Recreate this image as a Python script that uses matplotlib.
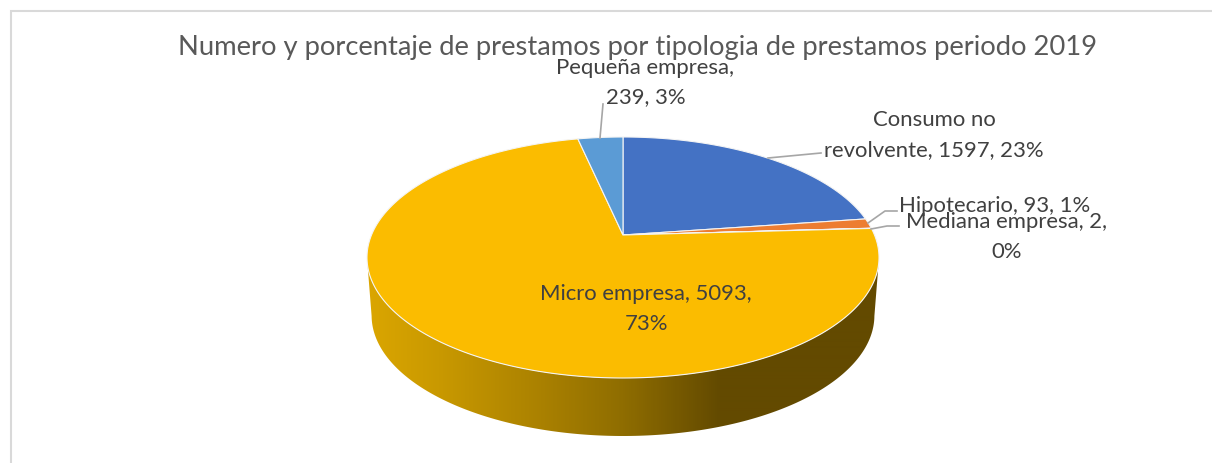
import numpy as np
import matplotlib
matplotlib.use('Agg')
import matplotlib.pyplot as plt
from matplotlib.colors import LinearSegmentedColormap
from matplotlib.patches import Polygon

plt.rcParams['font.family'] = ['Lato', 'DejaVu Sans']

titulo = 'Numero y porcentaje de prestamos por tipologia de prestamos periodo 2019'
categorias = ['Consumo no revolvente', 'Hipotecario', 'Mediana empresa', 'Micro empresa', 'Pequeña empresa']
valores = [1597, 93, 2, 5093, 239]
porcentajes = [23, 1, 0, 73, 3]
colores = ['#4472C4', '#ED7D31', '#A5A5A5', '#FBBC00', '#5B9BD5']

# pie geometry in pixels
cx, cy = 623, 235
a, b, k = 251.5, 116.3, 0.1867
grosor = 58


def rim(ang, esc=1.0):
    # angle clockwise from the top, with perspective on the circle
    x = np.sin(ang)
    y = np.cos(ang)
    d = 1 + k * y
    return cx + esc * a * x / d, cy - b * y / d


fig = plt.figure(figsize=(12.12, 4.63), dpi=100)
ax = fig.add_axes([0, 0, 1, 1])
ax.set_xlim(0, 1212)
ax.set_ylim(463, 0)
ax.axis('off')

# chart frame
ax.plot([10.5, 10.5, 1212], [463, 10.5, 10.5], color='#D9D9D9', lw=1.5, solid_joinstyle='miter')

# side of the pie, gradient clipped to the wall
ang = np.linspace(0, 2 * np.pi, 721)
xt, yt = rim(ang)
i_der = np.argmax(xt)
i_izq = np.argmin(xt)
xs_top, ys_top = xt[i_der:i_izq + 1], yt[i_der:i_izq + 1]
xs_bot, ys_bot = rim(ang[i_der:i_izq + 1], 0.982)
ys_bot = ys_bot + grosor
pared = np.column_stack([np.r_[xs_top, xs_bot[::-1]], np.r_[ys_top, ys_bot[::-1]]])
pared = Polygon(pared, closed=True, transform=ax.transData, fc='none', ec='none')
ax.add_patch(pared)
paleta = LinearSegmentedColormap.from_list('pared', [
    (0.0, '#DBA600'), (0.14, '#C99900'), (0.34, '#AA8100'),
    (0.5, '#8F6D00'), (0.69, '#634A00'), (1.0, '#634A00')])
grad = np.linspace(0, 1, 512).reshape(1, -1)
img = ax.imshow(grad, cmap=paleta, extent=[367, 879, 440, 250], aspect='auto', zorder=1, interpolation='bilinear')
img.set_clip_path(pared)
ax.set_xlim(0, 1212)
ax.set_ylim(463, 0)

# top of the pie
fin = np.cumsum(valores) / sum(valores) * 2 * np.pi
ini = np.r_[0, fin[:-1]]
for v0, v1, col in zip(ini, fin, colores):
    t = np.linspace(v0, v1, max(int((v1 - v0) * 120), 3))
    xp, yp = rim(t)
    pts = np.column_stack([np.r_[cx, xp], np.r_[cy, yp]])
    ax.add_patch(Polygon(pts, closed=True, fc=col, ec='#F4F4F4', lw=0.8, zorder=2))

# leader lines
lineas = [
    ([768, 821], [158, 153]),
    ([868, 885, 897], [223, 211, 211]),
    ([871, 887, 899], [229, 226, 226]),
    ([600, 603], [138, 104]),
]
for lx, ly in lineas:
    ax.plot(lx, ly, color='#A6A6A6', lw=1.2, zorder=3)

fs = 15.9
gris = '#404040'
ax.text(638, 47, titulo, fontsize=19.7, color='#595959', ha='center', va='center', zorder=4)


def etiqueta(x, y, txt):
    ax.text(x, y + 1.5, txt, fontsize=fs, color=gris, ha='center', va='center', zorder=4)


etiqueta(934, 118, 'Consumo no')
etiqueta(934, 149, f'revolvente, {valores[0]}, {porcentajes[0]}%')
etiqueta(995, 204, f'{categorias[1]}, {valores[1]}, {porcentajes[1]}%')
etiqueta(1007, 221, f'{categorias[2]}, {valores[2]},')
etiqueta(1007, 250, f'{porcentajes[2]}%')
etiqueta(646, 293, f'{categorias[3]}, {valores[3]},')
etiqueta(646, 323, f'{porcentajes[3]}%')
etiqueta(645, 67, f'{categorias[4]},')
etiqueta(646, 96, f'{valores[4]}, {porcentajes[4]}%')

fig.savefig('out.png', dpi=100)
